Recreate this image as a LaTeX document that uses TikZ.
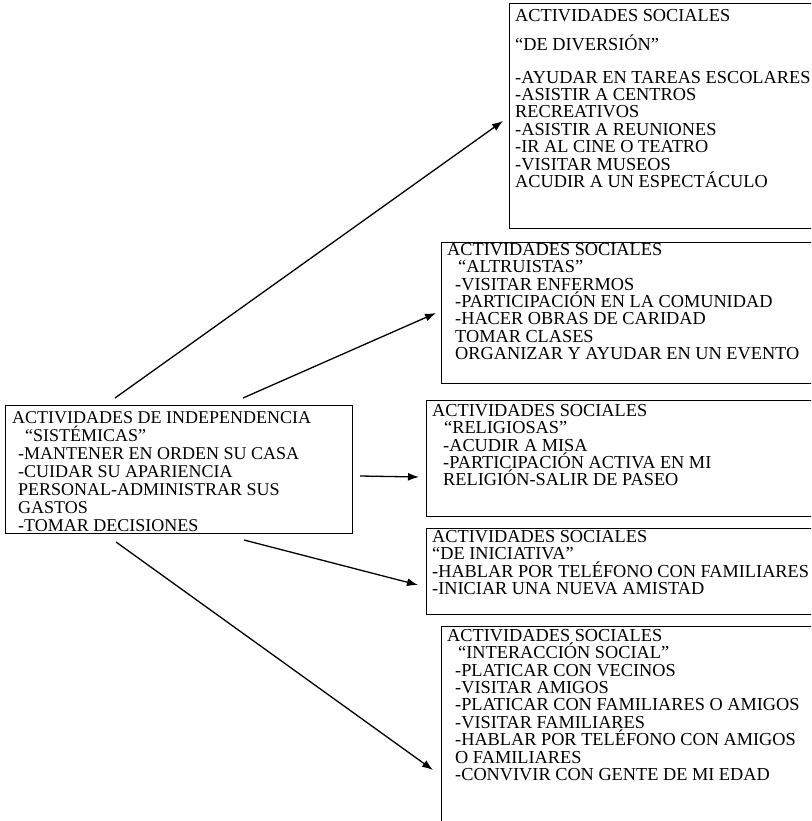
\documentclass[tikz,border=0pt]{standalone}
\usepackage{fontspec}
\setmainfont{Liberation Serif}
\usetikzlibrary{arrows.meta}
\begin{document}
\begin{tikzpicture}[x=1pt,y=-1pt,
  boxstyle/.style={draw=black,line width=1.2pt,inner sep=0pt,anchor=north west},
  txt/.style={anchor=north west,inner sep=0pt,align=left,font=\fontsize{18.3}{17.4}\selectfont},
  arr/.style={line width=1.3pt,-{Latex[length=11pt,width=8pt]}}]
\useasboundingbox (0,0) rectangle (811,821);
\clip (0,0) rectangle (811,821);
\fill[white] (0,0) rectangle (811,821);
% boxes
\node[boxstyle,minimum width=321pt,minimum height=225pt] (b1) at (509,3) {};
\node[boxstyle,minimum width=389pt,minimum height=141pt] (b2) at (441,242) {};
\node[boxstyle,minimum width=404pt,minimum height=116pt] (b3) at (426,400) {};
\node[boxstyle,minimum width=404pt,minimum height=86pt] (b4) at (426,528) {};
\node[boxstyle,minimum width=389pt,minimum height=214pt] (b5) at (441,626) {};
\node[boxstyle,minimum width=347pt,minimum height=128pt] (L) at (5,405) {};
% texts
\node[txt] (t1) at (515,9) {ACTIVIDADES SOCIALES\\[11.5pt]
“DE DIVERSIÓN"\\[15.5pt]
-AYUDAR EN TAREAS ESCOLARES\\
-ASISTIR A CENTROS\\
RECREATIVOS\\
-ASISTIR A REUNIONES\\
-IR AL CINE O TEATRO\\
-VISITAR MUSEOS\\
ACUDIR A UN ESPECTÁCULO};
\node[txt] (t2) at (447,243) {ACTIVIDADES SOCIALES\\
\hspace*{11pt}“ALTRUISTAS"\\
\hspace*{8pt}-VISITAR ENFERMOS\\
\hspace*{8pt}-PARTICIPACIÓN EN LA COMUNIDAD\\
\hspace*{8pt}-HACER OBRAS DE CARIDAD\\
\hspace*{8pt}TOMAR CLASES\\
\hspace*{8pt}ORGANIZAR Y AYUDAR EN UN EVENTO};
\node[txt] (t3) at (432,404) {ACTIVIDADES SOCIALES\\
\hspace*{12pt}“RELIGIOSAS"\\
\hspace*{11pt}-ACUDIR A MISA\\
\hspace*{11pt}-PARTICIPACIÓN ACTIVA EN MI\\
\hspace*{11pt}RELIGIÓN-SALIR DE PASEO};
\node[txt] (t4) at (432,530) {ACTIVIDADES SOCIALES\\
“DE INICIATIVA"\\
-HABLAR POR TELÉFONO CON FAMILIARES\\
-INICIAR UNA NUEVA AMISTAD};
\node[txt] (t5) at (447,629) {ACTIVIDADES SOCIALES\\
\hspace*{11pt}“INTERACCIÓN SOCIAL"\\
\hspace*{8pt}-PLATICAR CON VECINOS\\
\hspace*{8pt}-VISITAR AMIGOS\\
\hspace*{8pt}-PLATICAR CON FAMILIARES O AMIGOS\\
\hspace*{8pt}-VISITAR FAMILIARES\\
\hspace*{8pt}-HABLAR POR TELÉFONO CON AMIGOS\\
\hspace*{8pt}O FAMILIARES\\
\hspace*{8pt}-CONVIVIR CON GENTE DE MI EDAD};
\node[txt,font=\fontsize{18}{18}\selectfont] (tL) at (12,411) {ACTIVIDADES DE INDEPENDENCIA\\
\hspace*{13pt}“SISTÉMICAS"\\
\hspace*{6pt}-MANTENER EN ORDEN SU CASA\\
\hspace*{6pt}-CUIDAR SU APARIENCIA\\
\hspace*{6pt}PERSONAL-ADMINISTRAR SUS\\
\hspace*{6pt}GASTOS\\
\hspace*{6pt}-TOMAR DECISIONES};
% connector ends
\coordinate (s1) at (115,398);
\coordinate (e1) at (503,121);
\coordinate (s2) at (243,398);
\coordinate (e2) at (436,313);
\coordinate (s3) at (360,476);
\coordinate (e3) at (419,477);
\coordinate (s4) at (244,540);
\coordinate (e4) at (418,585);
\coordinate (s5) at (116,542);
\coordinate (e5) at (433,770);
\draw[arr] (s1) -- (e1);
\draw[arr] (s2) -- (e2);
\draw[arr] (s3) -- (e3);
\draw[arr] (s4) -- (e4);
\draw[arr] (s5) -- (e5);
\end{tikzpicture}
\end{document}
